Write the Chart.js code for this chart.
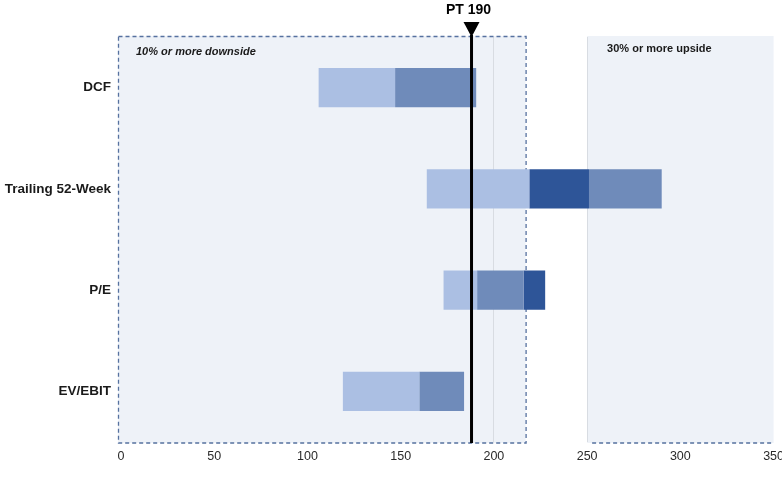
<!DOCTYPE html>
<html><head><meta charset="utf-8">
<script src="https://cdn.jsdelivr.net/npm/chart.js@4"></script>
<style>html,body{margin:0;padding:0;background:#fff;overflow:hidden;width:782px;height:487px}#wrap{width:791px;height:487px;position:relative}</style>
</head><body><div id="wrap"><canvas id="c"></canvas></div>
<script>
// ---- data ----
const categories = ['DCF', 'Trailing 52-Week', 'P/E', 'EV/EBIT'];
const segment1 = [[106, 147], [164, 219], [173, 191], [119, 160]];
const segment2 = [[147, 190.5], [219, 251], [191, 216], [160, 184]];
const segment3 = [null, [251, 290], [216, 227.5], null];
const segment1Shade = ['light', 'light', 'light', 'light'];
const segment2Shade = ['mid', 'dark', 'mid', 'mid'];
const segment3Shade = ['mid', 'mid', 'dark', 'mid'];
const xTickValues = [0, 50, 100, 150, 200, 250, 300, 350];
const priceTargetLine = 188;
const priceTargetLabel = 'PT 190';
const downsideEnd = 217;
const upsideStart = 250;
const downsideText = '10% or more downside';
const upsideText = '30% or more upside';

// ---- styles ----
const shades = { light: '#abbfe3', mid: '#6f8bba', dark: '#2e5598' };
const boxFill = '#eef2f8';
const dashColor = '#56719f';
const FONT = "'Liberation Sans', Arial, sans-serif";

const regionPlugin = {
  id: 'regions',
  beforeDraw(chart) {
    const { ctx, chartArea: a, scales: { x } } = chart;
    ctx.save();
    ctx.fillStyle = boxFill;
    const l0 = x.getPixelForValue(0) - 3, l1 = x.getPixelForValue(downsideEnd);
    ctx.fillRect(l0, a.top - 1, l1 - l0, a.bottom - a.top + 2);
    const u0 = x.getPixelForValue(upsideStart), u1 = x.getPixelForValue(350);
    ctx.fillRect(u0, a.top - 1, u1 - u0, a.bottom - a.top + 2);
    ctx.restore();
  },
  beforeDatasetsDraw(chart) {
    const { ctx, chartArea: a, scales: { x } } = chart;
    ctx.save();
    ctx.strokeStyle = dashColor;
    ctx.lineWidth = 1.3;
    ctx.setLineDash([4, 3]);
    const l0 = x.getPixelForValue(0) - 3, l1 = x.getPixelForValue(downsideEnd);
    ctx.strokeRect(l0 + 0.5, a.top - 0.5, l1 - l0, a.bottom - a.top + 1.5);
    const u0 = x.getPixelForValue(upsideStart), u1 = x.getPixelForValue(350);
    ctx.beginPath();
    ctx.moveTo(u0 + 5, a.bottom + 1);
    ctx.lineTo(u1, a.bottom + 1);
    ctx.stroke();
    ctx.setLineDash([]);
    ctx.fillStyle = '#1a1a1a';
    ctx.textBaseline = 'middle';
    ctx.textAlign = 'left';
    ctx.font = 'italic bold 11px ' + FONT;
    ctx.fillText(downsideText, l0 + 18, a.top + 15);
    ctx.font = 'bold 11px ' + FONT;
    ctx.fillText(upsideText, u0 + 20, a.top + 12);
    ctx.restore();
  },
  afterDatasetsDraw(chart) {
    const { ctx, chartArea: a, scales: { x } } = chart;
    const px = x.getPixelForValue(priceTargetLine);
    ctx.save();
    ctx.strokeStyle = '#000';
    ctx.lineWidth = 3;
    ctx.beginPath();
    ctx.moveTo(px, a.top - 2);
    ctx.lineTo(px, a.bottom + 1);
    ctx.stroke();
    ctx.fillStyle = '#000';
    ctx.beginPath();
    ctx.moveTo(px - 8, a.top - 15);
    ctx.lineTo(px + 8, a.top - 15);
    ctx.lineTo(px, a.top);
    ctx.closePath();
    ctx.fill();
    ctx.font = 'bold 14px ' + FONT;
    ctx.textAlign = 'center';
    ctx.textBaseline = 'middle';
    ctx.fillText(priceTargetLabel, px - 3, 10);
    ctx.restore();
  }
};

const common = { grouped: false, categoryPercentage: 1, barPercentage: 0.39, borderWidth: 0 };
new Chart(document.getElementById('c'), {
  type: 'bar',
  data: {
    labels: categories,
    datasets: [
      Object.assign({ label: 'Segment 1', data: segment1, backgroundColor: segment1Shade.map(s => shades[s]) }, common),
      Object.assign({ label: 'Segment 2', data: segment2, backgroundColor: segment2Shade.map(s => shades[s]) }, common),
      Object.assign({ label: 'Segment 3', data: segment3, backgroundColor: segment3Shade.map(s => shades[s]) }, common)
    ]
  },
  options: {
    indexAxis: 'y',
    responsive: true,
    maintainAspectRatio: false,
    animation: false,
    layout: { padding: { top: 37, left: 0, right: 0, bottom: 0 } },
    plugins: { legend: { display: false }, tooltip: { enabled: false } },
    scales: {
      x: {
        type: 'linear', min: 0, max: 350,
        afterBuildTicks: s => { s.ticks = xTickValues.map(v => ({ value: v })); },
        afterFit: s => { s.height = 45; },
        border: { display: false },
        grid: {
          drawTicks: false,
          color: c => (c.tick && (c.tick.value === 200 || c.tick.value === 250)) ? '#d8dce2' : 'rgba(0,0,0,0)',
          lineWidth: 1
        },
        ticks: { padding: 7, color: '#2a2a2a', font: { family: FONT, size: 12.5 } }
      },
      y: {
        afterFit: s => { s.width = 121; },
        border: { display: false },
        grid: { display: false, drawTicks: false },
        ticks: { padding: 10, color: '#1a1a1a', font: { family: FONT, size: 13.5, weight: 'bold' } }
      }
    }
  },
  plugins: [regionPlugin]
});
</script>
</body></html>
